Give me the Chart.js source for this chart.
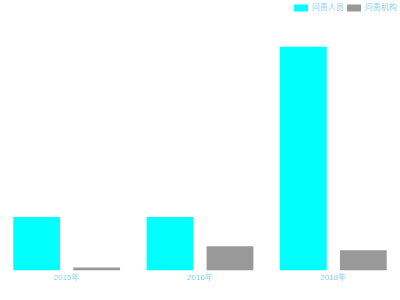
<!DOCTYPE html>
<html>
<head>
<meta charset="utf-8">
<script src="https://cdn.jsdelivr.net/npm/chart.js@4/dist/chart.umd.min.js"></script>
<style>
  html, body { margin: 0; padding: 0; background: #fff; }
  #wrap { width: 400px; height: 300px; }
</style>
</head>
<body>
<div id="wrap"><canvas id="chart"></canvas></div>
<script>
// años y valores
const years = ['2015年', '2016年', '2018年'];
const personas = [21.5, 21.5, 90];   // 问责人员
const organismos = [1.2, 9.7, 8.1];  // 问责机构
const yMax = 100;

const labelColor = '#87CEFA';
const fontFam = '"Liberation Sans", "Noto Sans CJK SC", sans-serif';

new Chart(document.getElementById('chart'), {
  type: 'bar',
  data: {
    labels: years,
    datasets: [
      { label: '问责人员', data: personas, backgroundColor: '#00FFFF' },
      { label: '问责机构', data: organismos, backgroundColor: '#999999' }
    ]
  },
  options: {
    responsive: true, maintainAspectRatio: false, animation: false,
    categoryPercentage: 0.9, barPercentage: 0.78,
    layout: { padding: { left: 0, right: 0, top: 1, bottom: 14 } },
    plugins: {
      tooltip: { enabled: false },
      legend: {
        position: 'top', align: 'end',
        labels: {
          boxWidth: 14, boxHeight: 7, padding: 3,
          color: labelColor, font: { size: 8, family: fontFam }
        }
      }
    },
    scales: {
      x: {
        grid: { display: false, drawTicks: false }, border: { display: false },
        ticks: { color: labelColor, padding: 3, font: { size: 8, family: fontFam } }
      },
      y: { display: false, min: 0, max: yMax }
    }
  }
});
</script>
</body>
</html>
